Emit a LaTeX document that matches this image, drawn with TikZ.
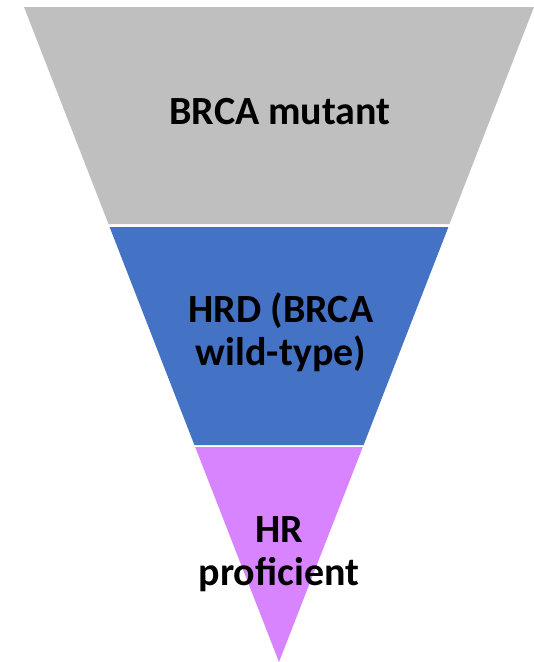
\documentclass[tikz,border=0pt]{standalone}
\usepackage{fontspec}
\setmainfont{Carlito}
\definecolor{bandgrey}{RGB}{191,191,191}
\definecolor{bandblue}{RGB}{68,114,196}
\definecolor{bandpurple}{RGB}{216,131,255}
\begin{document}
\begin{tikzpicture}[x=1pt,y=-1pt,
  label/.style={font=\fontsize{40}{43}\selectfont\bfseries, align=center, text=black, inner sep=0pt, anchor=base}]
\useasboundingbox (0,0) rectangle (534,662);
% funnel bands, edges run from (24,7)/(534,7) down to the tip at (279,662)
\fill[bandgrey]   (24,7) -- (534,7) -- (449.5,224) -- (108.5,224) -- cycle;
\fill[bandblue]   (109.6,227) -- (448.4,227) -- (363.6,445) -- (194.4,445) -- cycle;
\fill[bandpurple] (195.2,447) -- (362.8,447) -- (279,662) -- cycle;
% labels (anchored at the baseline of their last line)
\node[label] (mutant) at (280,124) {BRCA mutant};
\node[label] (hrd) at (281,365) {HRD (BRCA\\wild-type)};
\node[label] (hrp) at (279,585) {HR\\proficient};
\end{tikzpicture}
\end{document}
